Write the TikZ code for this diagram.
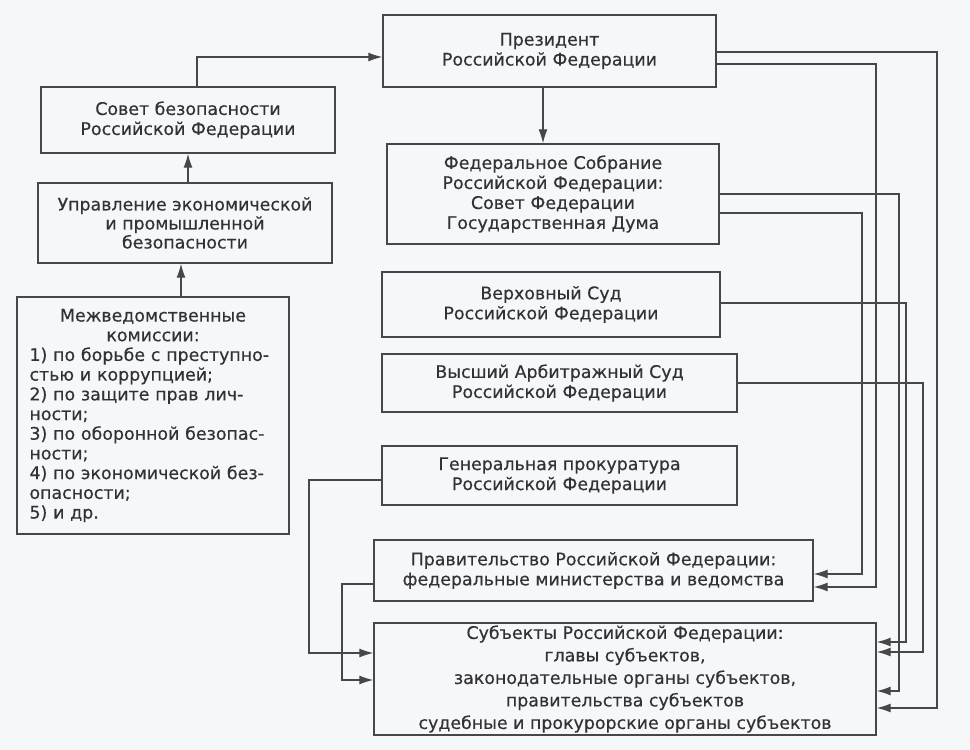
\documentclass[tikz,border=0pt]{standalone}
\usepackage{fontspec}
\setmainfont{DejaVu Sans}[FakeBold=0.4]
\usetikzlibrary{arrows.meta}
\definecolor{ink}{RGB}{50,50,54}
\definecolor{ln}{RGB}{70,70,76}
\definecolor{bg}{RGB}{246,247,249}
\tikzset{
  box/.style={draw=ln, line width=1.4pt, rectangle, inner sep=0pt, align=center,
    text=ink, font=\fontsize{17.4}{20}\selectfont},
  arr/.style={draw=ln, line width=1.2pt, -{Latex[length=14pt,width=9pt]}},
}
\begin{document}
\begin{tikzpicture}[x=1pt,y=-1pt]
\fill[bg] (0,0) rectangle (970,750);
\useasboundingbox (0,0) rectangle (970,750);

% left column
\node[box, minimum width=294pt, minimum height=66pt] (sovet) at (188,120)
  {Совет безопасности\\Российской Федерации};
\node[box, minimum width=294pt, minimum height=80pt, font=\fontsize{17.4}{19}\selectfont] (upr) at (185,223)
  {Управление экономической\\и промышленной\\безопасности};
\node[box, minimum width=272pt, minimum height=237pt, text width=247pt,
  font=\fontsize{17.4}{19.7}\selectfont] (mezh) at (153,415.5)
  {Межведомственные\\комиссии:\\
   \makebox[247pt][s]{1) по борьбе с преступно-}\\
   \makebox[247pt][l]{стью и коррупцией;}\\
   \makebox[247pt][s]{2) по защите прав лич-}\\
   \makebox[247pt][l]{ности;}\\
   \makebox[247pt][s]{3) по оборонной безопас-}\\
   \makebox[247pt][l]{ности;}\\
   \makebox[247pt][s]{4) по экономической без-}\\
   \makebox[247pt][l]{опасности;}\\
   \makebox[247pt][l]{5) и др.}};

% right column
\node[box, minimum width=333pt, minimum height=72pt] (pres) at (549.5,51)
  {Президент\\Российской Федерации};
\node[box, minimum width=332pt, minimum height=100pt] (fed) at (553,194)
  {Федеральное Собрание\\Российской Федерации:\\Совет Федерации\\Государственная Дума};
\node[box, minimum width=338pt, minimum height=65pt] (verh) at (551,304.5)
  {Верховный Суд\\Российской Федерации};
\node[box, minimum width=355pt, minimum height=58pt] (vys) at (559.5,383)
  {Высший Арбитражный Суд\\Российской Федерации};
\node[box, minimum width=355pt, minimum height=59pt] (gen) at (559.5,475.5)
  {Генеральная прокуратура\\Российской Федерации};
\node[box, minimum width=439pt, minimum height=61pt] (prav) at (593.5,570.5)
  {Правительство Российской Федерации:\\федеральные министерства и ведомства};
\node[box, minimum width=502pt, minimum height=112pt, font=\fontsize{17.4}{22.5}\selectfont] (subj) at (625,679)
  {Субъекты Российской Федерации:\\главы субъектов,\\законодательные органы субъектов,\\правительства субъектов\\судебные и прокурорские органы субъектов};

% left connectors
\draw[arr] ([xshift=9pt]sovet.north) |- ([yshift=-6pt]pres.west);
\draw[arr] ([xshift=3pt]upr.north) -- ([xshift=3pt]upr.north |- sovet.south);
\draw[arr] ([xshift=28pt]mezh.north) -- ([xshift=28pt]mezh.north |- upr.south);
\draw[arr] ([xshift=-6.5pt]pres.south) -- ([xshift=-6.5pt]pres.south |- fed.north);

% right-side connectors
\draw[arr] (pres.east |- 0,52) -| (937,708) -- (subj.east |- 0,708);
\draw[arr] (pres.east |- 0,64) -| (876,587) -- (prav.east |- 0,587);
\draw[arr] (fed.east |- 0,194) -| (899,691) -- (subj.east |- 0,691);
\draw[arr] (fed.east |- 0,213) -| (862,574) -- (prav.east |- 0,574);
\draw[arr] (verh.east |- 0,303) -| (906,642) -- (subj.east |- 0,642);
\draw[arr] (vys.east |- 0,383) -| (923,652) -- (subj.east |- 0,652);

% left-side connectors to subjects
\draw[arr] (gen.west |- 0,480) -| (309,653) -- (subj.west |- 0,653);
\draw[arr] (prav.west |- 0,584) -| (342,680) -- (subj.west |- 0,680);
\end{tikzpicture}
\end{document}
